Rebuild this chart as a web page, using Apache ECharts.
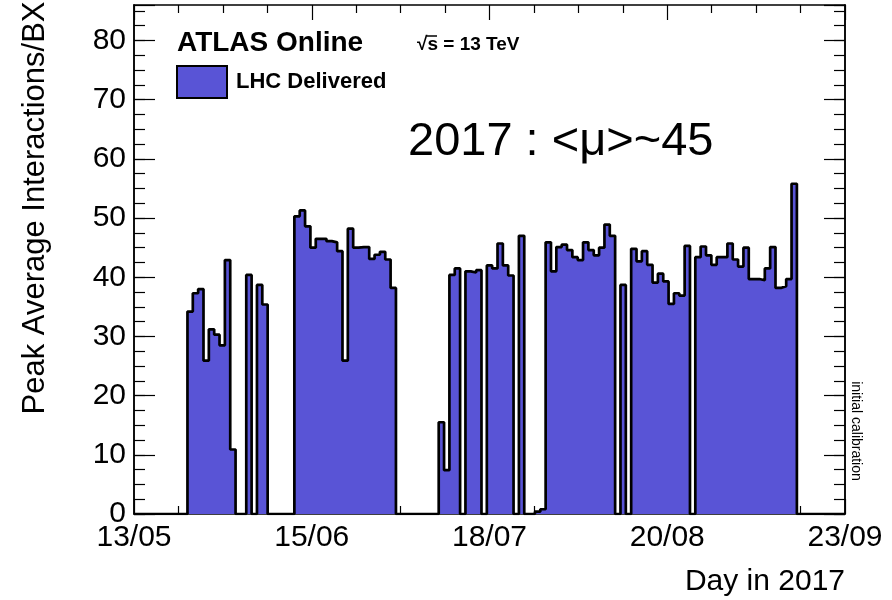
<!DOCTYPE html>
<html>
<head>
<meta charset="utf-8">
<script src="https://cdn.jsdelivr.net/npm/echarts@6/dist/echarts.min.js"></script>
<style>
html,body{margin:0;padding:0;background:#fff;}
#chart{width:892px;height:600px;}
</style>
</head>
<body>
<div id="chart"></div>
<script>
// Day bins from 13/05/2017 (day 0) to 23/09/2017 (day 133)
const axisStartDay = 0;
const axisEndDay = 133;
const tickLabels = ['13/05', '15/06', '18/07', '20/08', '23/09'];
// Peak average interactions per bunch crossing, one value per day (days 0..132)
const peakMu = [
  0, 0, 0, 0, 0, 0, 0, 0, 0, 0,                  // 0-9
  34.2, 37.3, 38.0, 25.9, 31.2, 30.3, 28.5, 42.9, 10.9, 0, // 10-19
  0, 40.4, 0, 38.7, 35.4, 0, 0, 0, 0, 0,         // 20-29
  50.3, 51.3, 48.6, 45.0, 46.5, 46.5, 46.1, 45.9, 44.4, 25.9, // 30-39
  48.2, 45.0, 45.1, 45.1, 43.1, 43.8, 44.3, 43.0, 38.2, 0,    // 40-49
  0, 0, 0, 0, 0, 0, 0, 15.5, 7.4, 40.4,          // 50-59
  41.5, 0, 41.0, 40.8, 41.2, 0, 42.0, 41.5, 45.7, 42.0,       // 60-69
  40.3, 0, 47.0, 0, 0, 0.4, 0.8, 45.9, 41.0, 45.1,            // 70-79
  45.5, 44.6, 43.4, 42.9, 45.9, 44.6, 43.7, 45.0, 48.9, 47.0, // 80-89
  0, 38.7, 0, 44.8, 42.7, 44.4, 42.1, 39.1, 40.6, 39.3,       // 90-99
  35.5, 37.3, 36.9, 45.3, 0, 43.4, 45.2, 43.7, 42.1, 43.4,    // 100-109
  43.4, 45.7, 43.0, 41.8, 45.0, 39.7, 39.7, 39.5, 41.5, 45.1, // 110-119
  38.2, 38.5, 39.7, 55.8, 0, 0, 0, 0, 0, 0,                    // 120-129
  0, 0, 0                                                      // 130-132
];
const yMax = 86;
const yMajor = 10;
const yMinor = 2.5;

const FONT = 'Liberation Sans, Arial, Helvetica, sans-serif';
const FILL = '#5954d6';

const stepData = peakMu.map((v, i) => [axisStartDay + i, v]);
stepData.push([axisEndDay, peakMu[peakMu.length - 1]]);

const xInterval = (axisEndDay - axisStartDay) / (tickLabels.length - 1);

function xAxisDef(pos, showLabel) {
  return {
    type: 'value', position: pos, min: axisStartDay, max: axisEndDay, interval: xInterval,
    axisLine: {show: true, onZero: false, lineStyle: {color: '#000', width: 1.5}},
    axisTick: {show: true, inside: true, length: 15, lineStyle: {color: '#000', width: 1.2}},
    minorTick: {show: true, splitNumber: 4, length: 8, lineStyle: {color: '#000', width: 1.2}},
    splitLine: {show: false},
    axisLabel: {
      show: showLabel, margin: 9, color: '#000', fontFamily: FONT, fontSize: 30,
      formatter: v => tickLabels[Math.round((v - axisStartDay) / xInterval)] || ''
    }
  };
}
function yAxisDef(pos, interval, len, showLabel) {
  return {
    type: 'value', position: pos, min: 0, max: yMax, interval: interval,
    axisLine: {show: true, onZero: false, lineStyle: {color: '#000', width: 1.5}},
    axisTick: {show: true, inside: true, length: len, lineStyle: {color: '#000', width: 1.2}},
    splitLine: {show: false},
    axisLabel: {
      show: showLabel, margin: 8, color: '#000', fontFamily: FONT, fontSize: 30,
      showMaxLabel: false,
      formatter: v => (Math.abs(v % yMajor) < 1e-6 ? String(Math.round(v)) : '')
    }
  };
}

const chart = echarts.init(document.getElementById('chart'), null, {renderer: 'canvas'});
chart.setOption({
  animation: false,
  backgroundColor: '#fff',
  grid: {left: 134, right: 47, top: 5, bottom: 86, containLabel: false},
  xAxis: [xAxisDef('bottom', true), xAxisDef('top', false)],
  yAxis: [
    yAxisDef('left', yMinor, 11, true),
    yAxisDef('left', yMajor, 21, false),
    yAxisDef('right', yMinor, 11, false),
    yAxisDef('right', yMajor, 21, false)
  ],
  series: [{
    type: 'line', xAxisIndex: 0, yAxisIndex: 0,
    data: stepData, step: 'end', symbol: 'none',
    lineStyle: {color: '#000', width: 2.7},
    areaStyle: {color: FILL, opacity: 1, origin: 'start'},
    z: 1
  }],
  graphic: [
    {type: 'text', style: {text: 'ATLAS Online', x: 177, y: 43, font: 'bold 28px ' + FONT, fill: '#000', textAlign: 'left', textVerticalAlign: 'middle'}},
    {type: 'text', style: {text: '\u221As = 13 TeV', x: 417, y: 45, font: 'bold 19px ' + FONT, fill: '#000', textAlign: 'left', textVerticalAlign: 'middle'}},
    {type: 'line', shape: {x1: 427, y1: 36, x2: 437, y2: 36}, style: {stroke: '#000', lineWidth: 1.5}},
    {type: 'rect', shape: {x: 177, y: 66, width: 50, height: 32}, style: {fill: FILL, stroke: '#000', lineWidth: 2}},
    {type: 'text', style: {text: 'LHC Delivered', x: 236, y: 82, font: 'bold 22px ' + FONT, fill: '#000', textAlign: 'left', textVerticalAlign: 'middle'}},
    {type: 'text', style: {text: '2017 : <\u03BC>~45', x: 408, y: 142, font: '47px ' + FONT, fill: '#000', textAlign: 'left', textVerticalAlign: 'middle'}},
    {type: 'text', x: 35, y: 208, rotation: Math.PI / 2, style: {text: 'Peak Average Interactions/BX', x: 0, y: 0, font: '31px ' + FONT, fill: '#000', textAlign: 'center', textVerticalAlign: 'middle'}},
    {type: 'text', style: {text: 'Day in 2017', x: 845, y: 582, font: '30px ' + FONT, fill: '#000', textAlign: 'right', textVerticalAlign: 'middle'}},
    {type: 'text', x: 856, y: 431, rotation: -Math.PI / 2, style: {text: 'initial calibration', x: 0, y: 0, font: '14px ' + FONT, fill: '#000', textAlign: 'center', textVerticalAlign: 'middle'}}
  ]
});
</script>
</body>
</html>
